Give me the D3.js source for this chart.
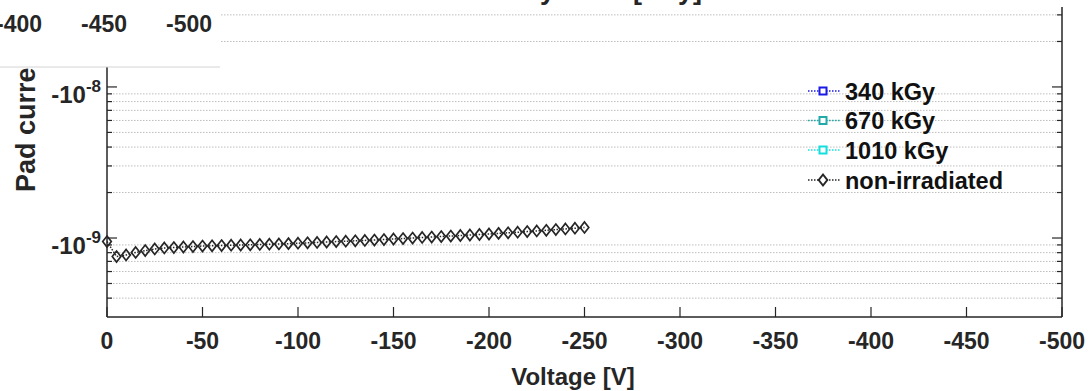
<!DOCTYPE html>
<html>
<head>
<meta charset="utf-8">
<script src="https://cdn.jsdelivr.net/npm/d3@7"></script>
<style>
  html, body { margin: 0; padding: 0; background: #fff; }
  svg { display: block; font-family: "Liberation Sans", Arial, Helvetica, sans-serif; font-weight: bold; }
</style>
</head>
<body>
<svg id="chart" width="1091" height="391"></svg>
<script>
// Bias voltage steps [V]
const voltage = [0, -5, -10, -15, -20, -25, -30, -35, -40, -45, -50, -55, -60, -65, -70, -75, -80, -85, -90, -95,
  -100, -105, -110, -115, -120, -125, -130, -135, -140, -145, -150, -155, -160, -165, -170, -175, -180, -185, -190, -195,
  -200, -205, -210, -215, -220, -225, -230, -235, -240, -245, -250];

// Pad current of the non-irradiated sensor [nA]
const currentNonIrr = [-0.948, -0.754, -0.772, -0.802, -0.826, -0.846, -0.859, -0.865, -0.872, -0.878,
  -0.885, -0.888, -0.892, -0.896, -0.899, -0.902, -0.906, -0.910, -0.913, -0.918,
  -0.924, -0.929, -0.935, -0.941, -0.947, -0.952, -0.958, -0.964, -0.970, -0.977,
  -0.985, -0.992, -1.000, -1.008, -1.015, -1.023, -1.031, -1.039, -1.047, -1.055,
  -1.063, -1.073, -1.083, -1.092, -1.103, -1.113, -1.125, -1.137, -1.149, -1.161, -1.174];

// Irradiated sensors have no readings inside this window
const current340 = [];
const current670 = [];
const current1010 = [];

const seriesNames = ["340 kGy", "670 kGy", "1010 kGy", "non-irradiated"];
const seriesColors = ["#1a1ae6", "#22aaaa", "#12e0e0", "#262626"];
const seriesMarkers = ["square", "square", "square", "diamond"];

const xTicks = [0, -50, -100, -150, -200, -250, -300, -350, -400, -450, -500];
const yMajorTicks = [1e-9, 1e-8];
const yMinorTicks = [4e-10, 5e-10, 6e-10, 7e-10, 8e-10, 9e-10,
  2e-9, 3e-9, 4e-9, 5e-9, 6e-9, 7e-9, 8e-9, 9e-9, 2e-8, 3e-8];
const insetTicks = ["-400", "-450", "-500"];

const axisColor = "#262626";
const svg = d3.select("#chart");

const plotLeft = 107, plotRight = 1062, plotTop = -4, plotBottom = 317;

const x = d3.scaleLinear().domain([0, -500]).range([plotLeft, plotRight]);
// log axis on current magnitude; labels carry the negative sign
const y = d3.scaleLog().domain([3e-10, 4e-8]).range([plotBottom, plotTop]);

// minor grid (dotted)
svg.append("g").selectAll("line").data(yMinorTicks).join("line")
  .attr("x1", plotLeft).attr("x2", plotRight)
  .attr("y1", d => y(d)).attr("y2", d => y(d))
  .attr("stroke", "#bdbdbd").attr("stroke-width", 1)
  .attr("stroke-dasharray", "1.5,1.5");

// data series
const series = [
  { values: current340, color: seriesColors[0], marker: "square" },
  { values: current670, color: seriesColors[1], marker: "square" },
  { values: current1010, color: seriesColors[2], marker: "square" },
  { values: currentNonIrr, color: seriesColors[3], marker: "diamond" }
];

const line = d3.line()
  .x((d, i) => x(voltage[i]))
  .y(d => y(Math.abs(d) * 1e-9));

function markerPath(type) {
  if (type === "diamond") return "M0,-5.5L4.3,0L0,5.5L-4.3,0Z";
  return "M-3.5,-3.5H3.5V3.5H-3.5Z";
}

series.forEach(s => {
  if (!s.values.length) return;
  svg.append("path").datum(s.values)
    .attr("d", line).attr("fill", "none")
    .attr("stroke", s.color).attr("stroke-width", 1.5)
    .attr("stroke-dasharray", "1.5,1.5");
  svg.append("g").selectAll("path").data(s.values).join("path")
    .attr("transform", (d, i) => `translate(${x(voltage[i])},${y(Math.abs(d) * 1e-9)})`)
    .attr("d", markerPath(s.marker))
    .attr("fill", "none").attr("stroke", s.color).attr("stroke-width", 1.7);
});

// axes box
const axes = svg.append("g").attr("stroke", axisColor).attr("stroke-width", 1.5);
axes.append("line").attr("x1", plotLeft).attr("x2", plotLeft).attr("y1", plotTop).attr("y2", plotBottom);
axes.append("line").attr("x1", plotRight).attr("x2", plotRight).attr("y1", 7).attr("y2", plotBottom);
axes.append("line").attr("x1", plotLeft).attr("x2", plotRight).attr("y1", plotBottom).attr("y2", plotBottom);

// x ticks (inward)
axes.append("g").selectAll("line").data(xTicks).join("line")
  .attr("x1", d => x(d)).attr("x2", d => x(d))
  .attr("y1", plotBottom).attr("y2", plotBottom - 10).attr("stroke-width", 1.2);

// y ticks on both sides
[plotLeft, plotRight].forEach((xe, k) => {
  const dir = k === 0 ? 1 : -1;
  axes.append("g").selectAll("line").data(yMajorTicks).join("line")
    .attr("x1", xe).attr("x2", xe + dir * 10)
    .attr("y1", d => y(d)).attr("y2", d => y(d)).attr("stroke-width", 1.2);
  axes.append("g").selectAll("line").data(yMinorTicks.filter(d => y(d) > 8)).join("line")
    .attr("x1", xe).attr("x2", xe + dir * 5)
    .attr("y1", d => y(d)).attr("y2", d => y(d)).attr("stroke-width", 1.2);
});

// x tick labels
svg.append("g").selectAll("text").data(xTicks).join("text")
  .attr("x", d => x(d)).attr("y", 349)
  .attr("text-anchor", "middle").attr("font-size", 23).attr("fill", axisColor)
  .text(d => d === 0 ? "0" : String(d));

// y tick labels  -10^k
const yl = svg.append("g").selectAll("text").data(yMajorTicks).join("text")
  .attr("x", 101).attr("y", d => y(d) + 16)
  .attr("text-anchor", "end").attr("fill", axisColor);
yl.append("tspan").attr("font-size", 24).text("-10");
yl.append("tspan").attr("font-size", 17).attr("dy", -11)
  .text(d => String(Math.round(Math.log10(d))));

// axis titles
svg.append("text").attr("x", 573).attr("y", 385)
  .attr("text-anchor", "middle").attr("font-size", 24).attr("fill", axisColor)
  .text("Voltage [V]");
svg.append("text").attr("transform", "translate(35,192) rotate(-90)")
  .attr("text-anchor", "start").attr("font-size", 27).attr("fill", axisColor)
  .text("Pad current [A]");
svg.append("text").attr("x", 555).attr("y", -1)
  .attr("text-anchor", "middle").attr("font-size", 27).attr("fill", axisColor)
  .text("Gamma ray dose [kGy]");

// legend
const legendRows = [91, 120.5, 150, 180];
const lg = svg.append("g").selectAll("g").data(seriesNames).join("g")
  .attr("transform", (d, i) => `translate(0,${legendRows[i]})`);
lg.append("line").attr("x1", 808).attr("x2", 840).attr("y1", 0).attr("y2", 0)
  .attr("stroke", (d, i) => seriesColors[i]).attr("stroke-width", 1.4)
  .attr("stroke-dasharray", "1.5,1.5");
lg.append("path").attr("transform", "translate(823,0)")
  .attr("d", (d, i) => markerPath(seriesMarkers[i]))
  .attr("fill", "#fff").attr("stroke", (d, i) => seriesColors[i]).attr("stroke-width", 2);
lg.append("text").attr("x", 845).attr("y", 8.5)
  .attr("font-size", 23.5).attr("fill", "#111")
  .text(d => d);

// tick strip of the neighbouring panel, top-left
const inset = svg.append("g");
inset.append("rect").attr("x", 0).attr("y", 0).attr("width", 220).attr("height", 67).attr("fill", "#fff");
inset.append("line").attr("x1", 0).attr("x2", 220).attr("y1", 67).attr("y2", 67)
  .attr("stroke", "#d4d4d4").attr("stroke-width", 1);
const insetX = d3.scalePoint().domain(insetTicks).range([19, 189]);
inset.selectAll("text").data(insetTicks).join("text")
  .attr("x", d => insetX(d)).attr("y", 31.5)
  .attr("text-anchor", "middle").attr("font-size", 23).attr("fill", axisColor)
  .text(d => d);
</script>
</body>
</html>
